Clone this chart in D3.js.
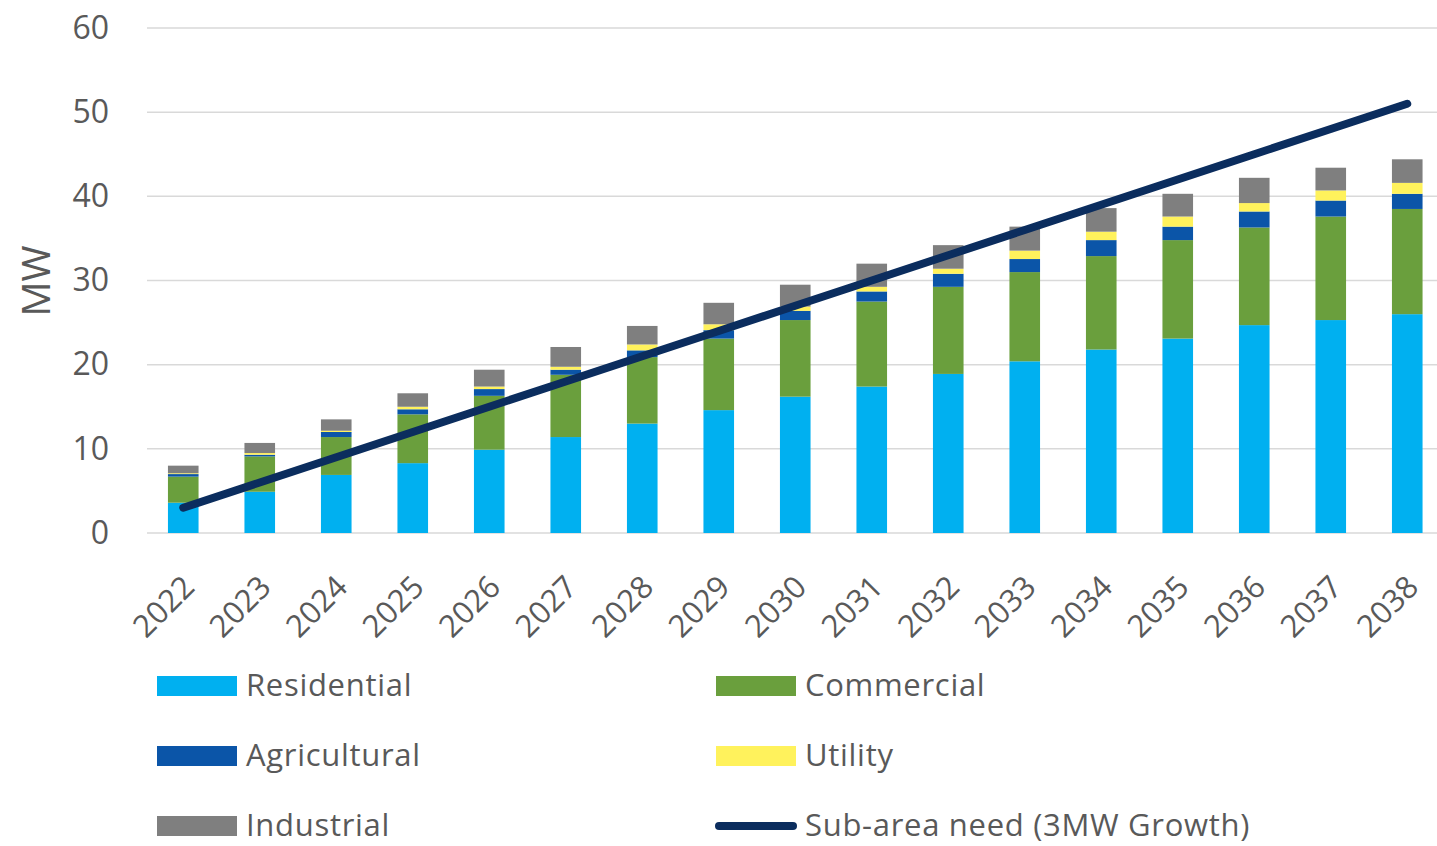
<!DOCTYPE html>
<html>
<head>
<meta charset="utf-8">
<script src="https://cdn.jsdelivr.net/npm/d3@7"></script>
<style>
  body { margin: 0; background: #fff; }
  svg text { font-family: "Open Sans", sans-serif; fill: #595959; }
</style>
</head>
<body>
<svg id="chart" width="1437" height="846"></svg>
<script>
// data
const years = ['2022', '2023', '2024', '2025', '2026', '2027', '2028', '2029', '2030',
  '2031', '2032', '2033', '2034', '2035', '2036', '2037', '2038'];
const residential = [3.6, 4.9, 6.9, 8.3, 9.9, 11.4, 13.0, 14.6, 16.2, 17.4, 18.9, 20.4, 21.8, 23.1, 24.7, 25.3, 26.0];
const commercial = [3.1, 4.2, 4.5, 5.8, 6.4, 7.4, 7.9, 8.5, 9.1, 10.1, 10.35, 10.6, 11.1, 11.7, 11.6, 12.3, 12.5];
const agricultural = [0.3, 0.2, 0.6, 0.6, 0.8, 0.6, 0.8, 1.0, 1.1, 1.2, 1.55, 1.55, 1.9, 1.6, 1.9, 1.9, 1.8];
const utility = [0.1, 0.2, 0.15, 0.3, 0.3, 0.35, 0.7, 0.7, 0.5, 0.55, 0.6, 1.0, 1.0, 1.2, 1.0, 1.2, 1.3];
const industrial = [0.9, 1.2, 1.35, 1.6, 2.0, 2.35, 2.2, 2.55, 2.6, 2.75, 2.8, 2.85, 2.8, 2.7, 3.0, 2.7, 2.8];
const subAreaNeed = [3, 6, 9, 12, 15, 18, 21, 24, 27, 30, 33, 36, 39, 42, 45, 48, 51];
const yTicks = [0, 10, 20, 30, 40, 50, 60];

const seriesKeys = ['Residential', 'Commercial', 'Agricultural', 'Utility', 'Industrial'];
const seriesColors = ['#00b0f0', '#6a9f3d', '#0b55a8', '#fff25c', '#7f7f7f'];
const lineColor = '#0b2d5e';

const rows = years.map((y, i) => ({
  year: y,
  Residential: residential[i],
  Commercial: commercial[i],
  Agricultural: agricultural[i],
  Utility: utility[i],
  Industrial: industrial[i]
}));

const svg = d3.select('#chart');

const x = d3.scaleBand().domain(years).range([145, 1445.5]).paddingInner(0.6).paddingOuter(0.3);
const y = d3.scaleLinear().domain([0, 60]).range([533, 28]);
const color = d3.scaleOrdinal().domain(seriesKeys).range(seriesColors);

// gridlines
svg.append('g')
  .selectAll('line')
  .data(yTicks)
  .join('line')
  .attr('x1', 147)
  .attr('x2', 1437)
  .attr('y1', (d) => y(d))
  .attr('y2', (d) => y(d))
  .attr('stroke', '#d9d9d9')
  .attr('stroke-width', 1.5);

// y axis labels
const yAxis = d3.axisLeft(y).tickValues(yTicks).tickSize(0).tickPadding(0);
svg.append('g')
  .attr('transform', 'translate(109,0)')
  .call(yAxis)
  .call((g) => g.select('.domain').remove())
  .selectAll('text')
  .attr('font-size', 32)
  .attr('font-family', '"Open Sans", sans-serif')
  .attr('fill', '#595959');

svg.append('text')
  .attr('transform', 'translate(50,281) rotate(-90)')
  .attr('text-anchor', 'middle')
  .attr('font-size', 39)
  .attr('fill', '#6b6b6b')
  .text('MW');

// stacked bars
const stacked = d3.stack().keys(seriesKeys)(rows);
svg.append('g')
  .selectAll('g')
  .data(stacked)
  .join('g')
  .attr('fill', (d) => color(d.key))
  .selectAll('rect')
  .data((d) => d)
  .join('rect')
  .attr('x', (d) => x(d.data.year))
  .attr('width', x.bandwidth())
  .attr('y', (d) => y(d[1]))
  .attr('height', (d) => y(d[0]) - y(d[1]));

// x axis labels
const xAxis = d3.axisBottom(x).tickSize(0).tickPadding(0);
svg.append('g')
  .attr('transform', 'translate(0,533)')
  .call(xAxis)
  .call((g) => g.select('.domain').remove())
  .selectAll('text')
  .attr('font-size', 31)
  .attr('font-family', '"Open Sans", sans-serif')
  .attr('fill', '#595959')
  .attr('text-anchor', 'end')
  .attr('dy', null)
  .attr('y', 0)
  .attr('transform', 'translate(13,56) rotate(-45)');

// need line
const line = d3.line()
  .x((d, i) => x(years[i]) + x.bandwidth() / 2)
  .y((d) => y(d));
svg.append('path')
  .datum(subAreaNeed)
  .attr('d', line)
  .attr('fill', 'none')
  .attr('stroke', lineColor)
  .attr('stroke-width', 8)
  .attr('stroke-linecap', 'round');

// legend
const legendItems = [
  { name: 'Residential', type: 'rect', color: seriesColors[0] },
  { name: 'Commercial', type: 'rect', color: seriesColors[1] },
  { name: 'Agricultural', type: 'rect', color: seriesColors[2] },
  { name: 'Utility', type: 'rect', color: seriesColors[3] },
  { name: 'Industrial', type: 'rect', color: seriesColors[4] },
  { name: 'Sub-area need (3MW Growth)', type: 'line', color: lineColor }
];
const legend = svg.append('g')
  .selectAll('g')
  .data(legendItems)
  .join('g')
  .attr('transform', (d, i) => `translate(${i % 2 === 0 ? 157 : 716},${686 + Math.floor(i / 2) * 70})`);

legend.filter((d) => d.type === 'rect')
  .append('rect')
  .attr('x', 0)
  .attr('y', -10)
  .attr('width', 80)
  .attr('height', 20)
  .attr('fill', (d) => d.color);

legend.filter((d) => d.type === 'line')
  .append('line')
  .attr('x1', 3)
  .attr('x2', 77)
  .attr('y1', 0)
  .attr('y2', 0)
  .attr('stroke', (d) => d.color)
  .attr('stroke-width', 8)
  .attr('stroke-linecap', 'round');

legend.append('text')
  .attr('x', 89)
  .attr('y', 10)
  .attr('font-size', 31)
  .attr('letter-spacing', 0.7)
  .text((d) => d.name);
</script>
</body>
</html>
